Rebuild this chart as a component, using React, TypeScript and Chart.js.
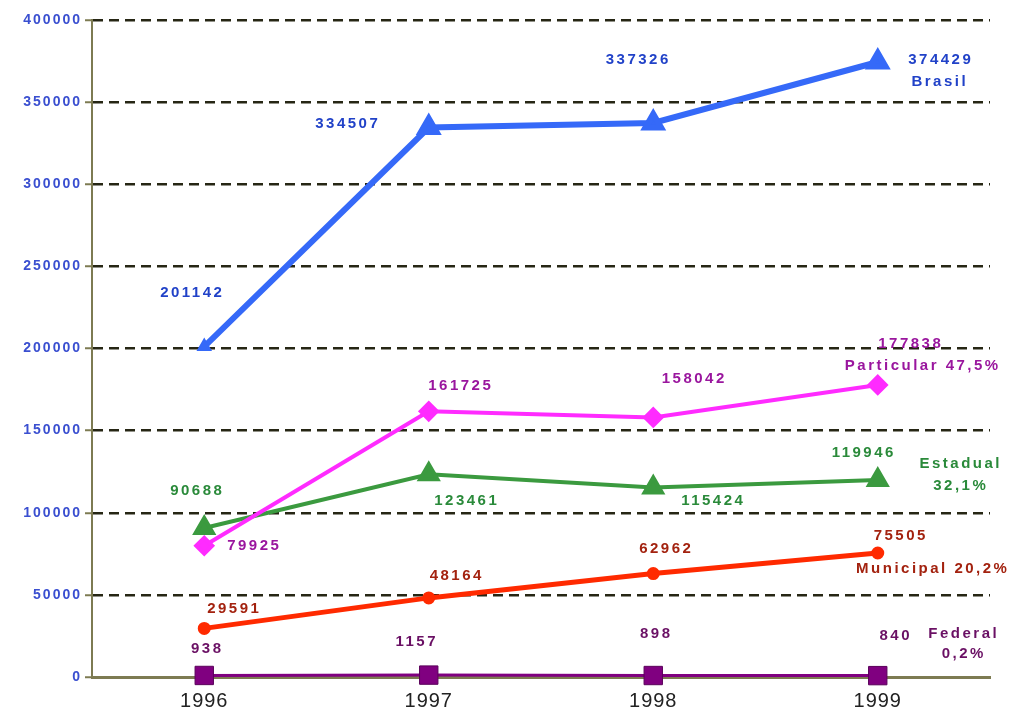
import React, { useEffect, useRef } from "react";
import { Chart, registerables } from "chart.js";

Chart.register(...registerables);

const years = ["1996", "1997", "1998", "1999"];
const brasil = [201142, 334507, 337326, 374429];
const particular = [79925, 161725, 158042, 177838];
const estadual = [90688, 123461, 115424, 119946];
const municipal = [29591, 48164, 62962, 75505];
const federal = [938, 1157, 898, 840];
const yTickValues = [0, 50000, 100000, 150000, 200000, 250000, 300000, 350000, 400000];
const yTickLabels = ["0", "50000", "100000", "150000", "200000", "250000", "300000", "350000", "400000"];

const brasilName = ["Brasil"];
const particularName = ["Particular 47,5%"];
const estadualName = ["Estadual", "32,1%"];
const municipalName = ["Municipal 20,2%"];
const federalName = ["Federal", "0,2%"];

const FONT = "'Liberation Sans', Arial, sans-serif";
const OLIVE = "#7d7b52";

// per-series label styling: offsets of each value label from its point, and name label placement
const labelCfg = [
  {
    color: "#2142c8",
    offsets: [[-12, -54], [-81, -4], [-15, -63], [63, -2]],
    name: brasilName, nameOffset: [62, 20], lineGap: 22,
  },
  {
    color: "#9a169e",
    offsets: [[50, 0], [32, -26], [41, -39], [33, -41]],
    name: particularName, nameOffset: [45, -19], lineGap: 22,
  },
  {
    color: "#2a8a3a",
    offsets: [[-7, -37], [38, 27], [60, 13], [-14, -27]],
    name: estadualName, nameOffset: [83, -16], lineGap: 22,
  },
  {
    color: "#a3220f",
    offsets: [[30, -20], [28, -22], [13, -25], [23, -17]],
    name: municipalName, nameOffset: [55, 16], lineGap: 22,
  },
  {
    color: "#6a1064",
    offsets: [[3, -27], [-12, -33], [3, -42], [18, -40]],
    name: federalName, nameOffset: [86, -42], lineGap: 20,
  },
];

const labelsPlugin = {
  id: "customLabels",
  afterDraw(chart: any) {
    const ctx = chart.ctx as CanvasRenderingContext2D;
    const yScale = chart.scales.y;
    const xScale = chart.scales.x;
    ctx.save();
    // y tick labels
    ctx.font = `bold 14px ${FONT}`;
    (ctx as any).letterSpacing = "2px";
    ctx.fillStyle = "#3a4fd0";
    ctx.textAlign = "right";
    ctx.textBaseline = "middle";
    yTickValues.forEach((v, i) => {
      ctx.fillText(yTickLabels[i], 82, yScale.getPixelForValue(v));
    });
    // x tick labels
    (ctx as any).letterSpacing = "1px";
    ctx.font = `20px ${FONT}`;
    ctx.fillStyle = "#222222";
    ctx.textAlign = "center";
    years.forEach((y, i) => {
      ctx.fillText(y, xScale.getPixelForValue(i), 701);
    });
    // data labels
    (ctx as any).letterSpacing = "2.5px";
    ctx.font = `bold 15px ${FONT}`;
    chart.data.datasets.forEach((ds: any, di: number) => {
      const cfg = labelCfg[di];
      const meta = chart.getDatasetMeta(di);
      ctx.fillStyle = cfg.color;
      meta.data.forEach((pt: any, i: number) => {
        const [dx, dy] = cfg.offsets[i];
        ctx.fillText(String(ds.data[i]), pt.x + dx, pt.y + dy);
      });
      const last = meta.data[meta.data.length - 1];
      cfg.name.forEach((line: string, li: number) => {
        ctx.fillText(line, last.x + cfg.nameOffset[0], last.y + cfg.nameOffset[1] + li * cfg.lineGap);
      });
    });
    ctx.restore();
  },
};

export default function App() {
  const canvasRef = useRef<HTMLCanvasElement>(null);

  useEffect(() => {
    const canvas = canvasRef.current;
    if (!canvas) return;
    const chart = new Chart(canvas, {
      type: "line",
      data: {
        labels: years,
        datasets: [
          {
            label: "Brasil",
            data: brasil,
            borderColor: "#3569f8",
            backgroundColor: "#3569f8",
            borderWidth: 6,
            pointStyle: "triangle",
            pointRadius: [3, 9, 9, 9],
            tension: 0,
            clip: false,
          },
          {
            label: "Particular",
            data: particular,
            borderColor: "#ff2bff",
            backgroundColor: "#ff2bff",
            borderWidth: 4,
            pointStyle: "rectRot",
            pointRadius: 8,
            tension: 0,
            clip: false,
          },
          {
            label: "Estadual",
            data: estadual,
            borderColor: "#3b9a3f",
            backgroundColor: "#3b9a3f",
            borderWidth: 4,
            pointStyle: "triangle",
            pointRadius: 10,
            tension: 0,
            clip: false,
          },
          {
            label: "Municipal",
            data: municipal,
            borderColor: "#ff2a00",
            backgroundColor: "#ff2a00",
            borderWidth: 5,
            pointStyle: "circle",
            pointRadius: 4,
            tension: 0,
            clip: false,
          },
          {
            label: "Federal",
            data: federal,
            borderColor: "#800080",
            backgroundColor: "#800080",
            borderWidth: 3,
            pointStyle: "rect",
            pointRadius: 13,
            pointBorderColor: "#5a005a",
            pointBorderWidth: 1,
            tension: 0,
            clip: false,
          },
        ],
      },
      options: {
        responsive: false,
        animation: false,
        devicePixelRatio: 1,
        layout: { padding: { left: 0, right: 31, top: 20, bottom: 0 } },
        plugins: {
          legend: { display: false },
          tooltip: { enabled: false },
          title: { display: false },
        },
        scales: {
          x: {
            type: "category",
            offset: true,
            grid: { display: false, drawTicks: false },
            border: { display: true, color: OLIVE, width: 3 },
            ticks: { display: false },
            afterFit: (s: any) => {
              s.height = 36;
            },
          },
          y: {
            min: 0,
            max: 400000,
            ticks: { display: false, stepSize: 50000 },
            grid: {
              color: (c: any) => (c.tick && c.tick.value === 0 ? "rgba(0,0,0,0)" : "#262614"),
              lineWidth: 2.5,
              drawTicks: true,
              tickLength: 7,
              tickColor: OLIVE,
              tickWidth: 2,
            },
            border: { display: true, color: OLIVE, width: 2, dash: [10, 6] },
            afterFit: (s: any) => {
              s.width = 92;
            },
          },
        },
      },
      plugins: [labelsPlugin],
    });
    return () => chart.destroy();
  }, []);

  return (
    <div style={{ position: "absolute", left: 0, top: 0, width: 1021, height: 713, background: "#fff" }}>
      <canvas ref={canvasRef} width={1021} height={713} />
    </div>
  );
}
